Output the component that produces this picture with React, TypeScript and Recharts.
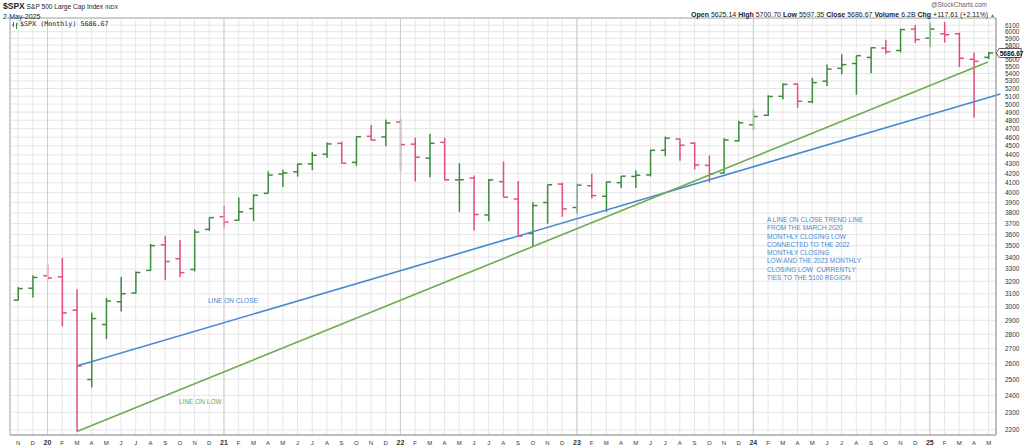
import React from 'react'
import {
  ComposedChart,
  Bar,
  XAxis,
  YAxis,
  CartesianGrid,
  ReferenceLine,
  ReferenceArea,
  ReferenceDot,
} from 'recharts'

// Monthly OHLC for $SPX, Nov 2019 .. May 2025
const START_YEAR = 2019
const START_MONTH = 10 // November, 0-based
const MONTH_LETTERS = ['J', 'F', 'M', 'A', 'M', 'J', 'J', 'A', 'S', 'O', 'N', 'D']

const opens = [
  3050.72, 3143.85,
  3244.67, 3235.66, 2974.28, 2498.08, 2869.09, 3038.78, 3105.92, 3288.26, 3507.44, 3385.87, 3296.2, 3645.87,
  3764.61, 3731.17, 3842.51, 3992.78, 4191.98, 4216.52, 4300.73, 4406.86, 4528.8, 4317.16, 4610.62, 4602.82,
  4778.14, 4519.57, 4363.14, 4540.32, 4130.61, 4149.78, 3781.0, 4112.38, 3936.73, 3609.78, 3901.79, 4087.14,
  3853.29, 4070.07, 3963.34, 4102.2, 4166.79, 4183.03, 4450.48, 4578.83, 4530.6, 4284.52, 4201.27, 4559.43,
  4745.2, 4861.11, 5098.51, 5257.97, 5029.03, 5297.15, 5471.08, 5537.84, 5623.89, 5757.73, 5723.22, 6040.11,
  5903.26, 5969.65, 5968.33, 5597.53, 5625.14,
]
const highs = [
  3154.26, 3247.93,
  3337.77, 3393.52, 3136.72, 2954.86, 3068.67, 3233.13, 3279.99, 3514.77, 3588.11, 3549.85, 3645.99, 3760.2,
  3870.9, 3950.43, 3983.87, 4218.78, 4238.04, 4302.43, 4429.97, 4537.36, 4545.85, 4608.08, 4743.83, 4808.93,
  4818.62, 4595.31, 4637.3, 4593.45, 4307.66, 4177.51, 4140.15, 4325.28, 4119.28, 3905.42, 4080.11, 4100.96,
  4094.21, 4195.44, 4110.75, 4170.06, 4231.1, 4458.48, 4607.07, 4584.62, 4541.25, 4393.57, 4587.64, 4793.3,
  4931.09, 5111.06, 5264.85, 5263.95, 5341.88, 5523.64, 5669.67, 5651.62, 5767.37, 5878.46, 6044.17, 6099.97,
  6128.18, 6147.43, 5986.09, 5695.31, 5700.7,
]
const lows = [
  3050.72, 3070.33,
  3214.64, 2855.84, 2191.86, 2447.49, 2766.64, 2965.66, 3101.17, 3284.53, 3209.45, 3233.94, 3279.74, 3633.4,
  3662.71, 3725.62, 3723.34, 3992.78, 4056.88, 4164.4, 4233.13, 4367.73, 4305.91, 4278.94, 4560.0, 4495.12,
  4222.62, 4114.65, 4157.87, 4124.28, 3810.32, 3636.87, 3721.56, 3954.53, 3584.13, 3491.58, 3698.15, 3764.49,
  3794.33, 3943.08, 3808.86, 4048.28, 4048.28, 4166.15, 4385.05, 4335.31, 4238.63, 4103.78, 4197.74, 4546.5,
  4682.11, 4853.52, 5056.82, 4953.56, 5011.05, 5234.32, 5390.95, 5119.26, 5402.62, 5674.0, 5696.51, 5832.3,
  5773.31, 5837.66, 5488.73, 4835.04, 5597.35,
]
const closes = [
  3140.98, 3230.78,
  3225.52, 2954.22, 2584.59, 2912.43, 3044.31, 3100.29, 3271.12, 3500.31, 3363.0, 3269.96, 3621.63, 3756.07,
  3714.24, 3811.15, 3972.89, 4181.17, 4204.11, 4297.5, 4395.26, 4522.68, 4307.54, 4605.38, 4567.0, 4766.18,
  4515.55, 4373.94, 4530.41, 4131.93, 4132.15, 3785.38, 4130.29, 3955.0, 3585.62, 3871.98, 4080.11, 3839.5,
  4076.6, 3970.15, 4109.31, 4169.48, 4179.83, 4450.38, 4588.96, 4507.66, 4288.05, 4193.8, 4567.8, 4769.83,
  4845.65, 5096.27, 5254.35, 5035.69, 5277.51, 5460.48, 5522.3, 5648.4, 5762.48, 5705.45, 6032.38, 5881.63,
  6040.53, 5954.5, 5611.85, 5569.06, 5686.67,
]
const PREV_CLOSE_BEFORE_START = 3037.56

const priceTicks = [
  2200, 2300, 2400, 2500, 2600, 2700, 2800, 2900, 3000, 3100, 3200, 3300, 3400, 3500, 3600, 3700, 3800, 3900,
  4000, 4100, 4200, 4300, 4400, 4500, 4600, 4700, 4800, 4900, 5000, 5100, 5200, 5300, 5400, 5500, 5600, 5700,
  5800, 5900, 6000, 6100,
]

// trend lines: anchored on the March 2020 close/low and the 2022 closing/intraday lows
const closeAnchors = [{ m: 4, v: 2584.59 }, { m: 34, v: 3585.62 }]
const lowAnchors = [{ m: 4, v: 2191.86 }, { m: 35, v: 3491.58 }]
const CLOSE_LINE_END = 66.8
const LOW_LINE_END = 65.95

const noteLines = [
  'A LINE ON CLOSE TREND LINE',
  'FROM THE MARCH 2020',
  'MONTHLY CLOSING LOW',
  'CONNECTED TO THE 2022',
  'MONTHLY CLOSING',
  'LOW AND THE 2023 MONTHLY',
  'CLOSING LOW  CURRENTLY',
  'TIES TO THE 5100 REGION',
]

const UP = '#3d8b3d'
const DOWN = '#e2507a'
const BLUE = '#4a89cf'
const GREEN = '#6cad52'
const FONT = '"Liberation Sans", Arial, sans-serif'
const LAST_CLOSE = closes[closes.length - 1]

const monthLabel = (i: number) => {
  const mAbs = START_MONTH + i
  const mo = mAbs % 12
  const yr = START_YEAR + Math.floor(mAbs / 12)
  return mo === 0 ? String(yr).slice(2) : MONTH_LETTERS[mo]
}

const data = opens.map((o, i) => ({
  m: i,
  range: [lows[i], highs[i]],
  open: o,
  high: highs[i],
  low: lows[i],
  close: closes[i],
  up: closes[i] >= (i === 0 ? PREV_CLOSE_BEFORE_START : closes[i - 1]),
}))

const monthTicks = data.map((d) => d.m)
const yearTicks = monthTicks.filter((i) => (START_MONTH + i) % 12 === 0)

const extend = (a: { m: number; v: number }, b: { m: number; v: number }, m: number) =>
  Math.exp(Math.log(a.v) + ((Math.log(b.v) - Math.log(a.v)) * (m - a.m)) / (b.m - a.m))

function OhlcShape(props: any) {
  const { x, y, width, height, payload } = props
  if (!payload) return null
  const cx = x + width / 2
  const top = Math.min(y, y + height)
  const h = Math.abs(height)
  const span = Math.log(payload.high) - Math.log(payload.low) || 1
  const yOpen = top + (h * (Math.log(payload.high) - Math.log(payload.open))) / span
  const yClose = top + (h * (Math.log(payload.high) - Math.log(payload.close))) / span
  const c = payload.up ? UP : DOWN
  return (
    <g stroke={c} strokeWidth={1.5}>
      <line x1={cx} x2={cx} y1={top} y2={top + h} />
      <line x1={cx - 4.5} x2={cx} y1={yOpen} y2={yOpen} />
      <line x1={cx} x2={cx + 4.5} y1={yClose} y2={yClose} />
    </g>
  )
}

function MonthTick(props: any) {
  const { x, y, payload } = props
  const label = monthLabel(payload.value)
  const isYear = label.length === 2
  return (
    <text
      x={x}
      y={y + 2}
      textAnchor="middle"
      fontSize={isYear ? 7 : 6}
      fontWeight={isYear ? 'bold' : 'normal'}
      fill="#333"
      fontFamily={FONT}
    >
      {label}
    </text>
  )
}

function PriceTick(props: any) {
  const { x, y, payload } = props
  // the last-price tag covers the label next to it
  if (Math.abs(Math.log(payload.value / LAST_CLOSE)) < 0.012) return null
  return (
    <text x={x + 1} y={y + 2.5} fontSize={6.5} fill="#333" fontFamily={FONT}>
      {payload.value}
    </text>
  )
}

function LastTag(props: any) {
  const { cx, cy } = props
  const x0 = cx + 7.5
  return (
    <g>
      <polygon
        points={`${x0},${cy} ${x0 + 3},${cy - 4.5} ${x0 + 25},${cy - 4.5} ${x0 + 25},${cy + 4.5} ${x0 + 3},${cy + 4.5}`}
        fill="#fff"
        stroke="#333"
        strokeWidth={0.8}
      />
      <text x={x0 + 3.5} y={cy + 2.5} fontSize={6.6} fontWeight="bold" fill="#111" fontFamily={FONT}>
        {LAST_CLOSE.toFixed(2)}
      </text>
    </g>
  )
}

export default function App() {
  const last = data[data.length - 1]
  const lastChg = last.close - closes[closes.length - 2]
  const lastPct = (lastChg / closes[closes.length - 2]) * 100
  return (
    <div style={{ position: 'absolute', left: 0, top: 0, width: 1024, height: 446, background: '#fff', fontFamily: FONT }}>
      <ComposedChart
        width={1024}
        height={446}
        data={data}
        margin={{ top: 18, right: 0, bottom: 0, left: 10 }}
      >
        <CartesianGrid stroke="#e6e6e6" strokeWidth={1} />
        <XAxis
          dataKey="m"
          type="number"
          domain={[-0.55, 66.5]}
          ticks={monthTicks}
          interval={0}
          allowDataOverflow
          tick={<MonthTick />}
          tickLine={false}
          axisLine={{ stroke: '#aaa' }}
          height={11}
        />
        <YAxis
          orientation="right"
          scale="log"
          type="number"
          domain={[2172, 6211]}
          ticks={priceTicks}
          interval={0}
          allowDataOverflow
          tick={<PriceTick />}
          tickLine={false}
          axisLine={{ stroke: '#aaa' }}
          width={28}
        />
        {yearTicks.map((i) => (
          <ReferenceLine key={i} x={i} stroke="#cdcdcd" strokeWidth={1} />
        ))}
        <ReferenceArea x1={-0.55} x2={66.5} y1={2172} y2={6211} fill="none" stroke="#aaa" strokeWidth={1} />
        <Bar dataKey="range" barSize={9} shape={<OhlcShape />} isAnimationActive={false} />
        <ReferenceLine
          segment={[
            { x: closeAnchors[0].m, y: closeAnchors[0].v },
            { x: CLOSE_LINE_END, y: extend(closeAnchors[0], closeAnchors[1], CLOSE_LINE_END) },
          ]}
          stroke={BLUE}
          strokeWidth={1.6}
          ifOverflow="visible"
        />
        <ReferenceLine
          segment={[
            { x: lowAnchors[0].m, y: lowAnchors[0].v },
            { x: LOW_LINE_END, y: extend(lowAnchors[0], lowAnchors[1], LOW_LINE_END) },
          ]}
          stroke={GREEN}
          strokeWidth={1.6}
          ifOverflow="visible"
        />
        <ReferenceDot
          x={last.m}
          y={last.close}
          r={0}
          ifOverflow="visible"
          shape={(p: any) => <LastTag {...p} />}
        />
      </ComposedChart>

      {/* header */}
      <div style={{ position: 'absolute', left: 3, top: 1, fontSize: 6.6, color: '#222', whiteSpace: 'nowrap', lineHeight: '10px' }}>
        <b style={{ fontSize: 8.5 }}>$SPX</b> S&amp;P 500 Large Cap Index <span style={{ fontSize: 5.5 }}>INDX</span>
      </div>
      <div style={{ position: 'absolute', left: 3, top: 12, fontSize: 7, color: '#222', lineHeight: '9px' }}>2-May-2025</div>
      <div style={{ position: 'absolute', right: 37, top: 1, fontSize: 6.5, color: '#666', lineHeight: '8px' }}>
        @StockCharts.com
      </div>
      <div style={{ position: 'absolute', right: 29, top: 10, fontSize: 7, color: '#222', whiteSpace: 'nowrap', lineHeight: '9px' }}>
        <b>Open</b> {last.open.toFixed(2)} <b>High</b> {last.high.toFixed(2)} <b>Low</b> {last.low.toFixed(2)}{' '}
        <b>Close</b> {last.close.toFixed(2)} <b>Volume</b> 6.2B <b>Chg</b> +{lastChg.toFixed(2)} (+{lastPct.toFixed(2)}%){' '}
        <span style={{ color: '#3d8b3d', fontSize: 5 }}>▲</span>
      </div>
      <div
        style={{
          position: 'absolute',
          left: 12,
          top: 20,
          fontSize: 6.7,
          color: '#222',
          whiteSpace: 'pre',
          lineHeight: '9px',
          fontFamily: '"DejaVu Sans Mono", "Liberation Mono", monospace',
          display: 'flex',
          alignItems: 'center',
        }}
      >
        <svg width={6} height={8} style={{ marginRight: 2 }}>
          <g stroke={UP} strokeWidth={1}>
            <line x1={1.5} x2={1.5} y1={1} y2={6} />
            <line x1={4.5} x2={4.5} y1={2} y2={8} />
            <line x1={0} x2={1.5} y1={4} y2={4} />
            <line x1={4.5} x2={6} y1={3} y2={3} />
          </g>
        </svg>
        $SPX (Monthly) {last.close.toFixed(2)}
      </div>

      {/* annotations */}
      <div style={{ position: 'absolute', left: 208, top: 297, fontSize: 6.5, color: BLUE, whiteSpace: 'nowrap' }}>LINE ON CLOSE</div>
      <div style={{ position: 'absolute', left: 179, top: 398, fontSize: 6.5, color: GREEN, whiteSpace: 'nowrap' }}>LINE ON LOW</div>
      <div style={{ position: 'absolute', left: 767, top: 216, fontSize: 6.5, color: BLUE, lineHeight: '8.3px', whiteSpace: 'pre' }}>
        {noteLines.map((t) => (
          <div key={t}>{t}</div>
        ))}
      </div>
    </div>
  )
}
